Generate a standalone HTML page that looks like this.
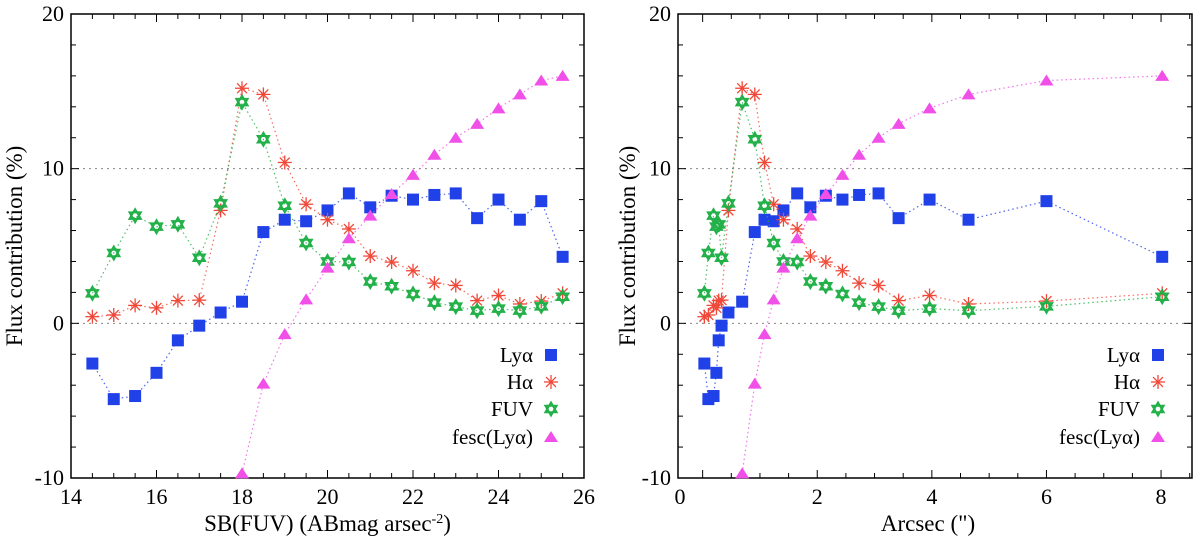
<!DOCTYPE html>
<html><head><meta charset="utf-8">
<style>
html,body{margin:0;padding:0;background:#fff;}
svg, svg text{font-family:"Liberation Serif","Times New Roman",Times,"DejaVu Serif",serif;}
</style></head>
<body>
<svg id="chart" width="1200" height="539" viewBox="0 0 1200 539"></svg>
<script>
// ---- data ----
const sbFuv = [14.5,15,15.5,16,16.5,17,17.5,18,18.5,19,19.5,20,20.5,21,21.5,22,22.5,23,23.5,24,24.5,25,25.5];
const arcsec = [0.03,0.10,0.19,0.24,0.28,0.33,0.45,0.69,0.91,1.08,1.24,1.41,1.65,1.88,2.15,2.44,2.73,3.07,3.42,3.96,4.64,6.0,8.02];
const lyaVals = [-2.6,-4.9,-4.7,-3.2,-1.1,-0.15,0.7,1.4,5.9,6.7,6.6,7.3,8.4,7.5,8.25,8.0,8.3,8.4,6.8,8.0,6.7,7.9,4.3];
const haVals = [0.43,0.54,1.16,1.0,1.47,1.5,7.3,15.2,14.8,10.4,7.7,6.7,6.1,4.35,3.96,3.4,2.6,2.45,1.47,1.8,1.25,1.44,1.94];
const fuvVals = [1.94,4.55,6.96,6.25,6.4,4.24,7.76,14.3,11.9,7.6,5.2,4.0,3.96,2.7,2.4,1.9,1.34,1.08,0.82,0.95,0.82,1.1,1.72];
const fescVals = [null,null,null,null,null,null,null,-9.7,-3.9,-0.7,1.55,3.6,5.5,6.96,8.36,9.6,10.9,12.0,12.9,13.9,14.8,15.7,16.0];
const yTicks = [-10,0,10,20];
const leftXTicks = [14,16,18,20,22,24,26];
const rightXTicks = [2,4,6,8];
const legendLabels = ["Lyα","Hα","FUV","fesc(Lyα)"];

const NS="http://www.w3.org/2000/svg";
const svg=document.getElementById('chart');
function mk(tag,attrs,parent){const e=document.createElementNS(NS,tag);for(const k in attrs)e.setAttribute(k,attrs[k]);(parent||svg).appendChild(e);return e;}

const COL={lya:'#2040e8',ha:'#f04838',fuv:'#22b048',fesc:'#f050e8'};

function marker(g,type,cx,cy){
  let m;
  if(type==='lya'){m=mk('rect',{x:cx-6,y:cy-6,width:12,height:12,fill:COL.lya},g);}
  else if(type==='ha'){m=mk('g',{stroke:COL.ha,'stroke-width':1.3},g);
    for(let a=0;a<4;a++){const t=a*Math.PI/4;mk('line',{x1:cx-7*Math.cos(t),y1:cy-7*Math.sin(t),x2:cx+7*Math.cos(t),y2:cy+7*Math.sin(t)},m);}}
  else if(type==='fuv'){const r=6.5;const p1=[],p2=[];
    for(let i=0;i<3;i++){const a=-Math.PI/2+i*2*Math.PI/3;p1.push((cx+r*Math.cos(a)).toFixed(1)+','+(cy+r*Math.sin(a)).toFixed(1));
      const b=Math.PI/2+i*2*Math.PI/3;p2.push((cx+r*Math.cos(b)).toFixed(1)+','+(cy+r*Math.sin(b)).toFixed(1));}
    m=mk('g',{fill:'none',stroke:COL.fuv,'stroke-width':2},g);
    mk('polygon',{points:p1.join(' ')},m);mk('polygon',{points:p2.join(' ')},m);}
  else {m=mk('polygon',{points:`${cx},${cy-6} ${cx-7},${cy+5} ${cx+7},${cy+5}`,fill:COL.fesc},g);}
  return m;
}

function panel(opts){
  const {name,x0,x1,xmin,xmax,xs,xTicks,xMinorStep,xlabelFn,ylabX,legendX,zeroLabelX}=opts;
  const y0=14,y1=478,ymin=-10,ymax=20;
  const X=v=>x0+(v-xmin)/(xmax-xmin)*(x1-x0);
  const Y=v=>y1-(v-ymin)/(ymax-ymin)*(y1-y0);
  const g=mk('g',{});
  
  
  [0,10].forEach(v=>{const l=mk('line',{x1:x0,x2:x1,y1:Y(v),y2:Y(v),stroke:'#888','stroke-width':1,'stroke-dasharray':'2,4'},g);
    });
  const fr=mk('rect',{x:x0,y:y0,width:x1-x0,height:y1-y0,fill:'none',stroke:'#000','stroke-width':1.5},g);
  
  for(let v=ymin;v<=ymax;v+=2){const len=(v%10===0)?8:5;
    mk('line',{x1:x0,x2:x0+len,y1:Y(v),y2:Y(v),stroke:'#000','stroke-width':1},g);
    mk('line',{x1:x1,x2:x1-len,y1:Y(v),y2:Y(v),stroke:'#000','stroke-width':1},g);}
  yTicks.forEach(v=>{const t=mk('text',{x:x0-7,y:Y(v)+7,'text-anchor':'end','font-size':22},g);t.textContent=v;
    });
  const start=Math.ceil(xmin/xMinorStep)*xMinorStep;
  for(let v=start;v<=xmax+1e-9;v+=xMinorStep){const major=Math.abs(v/2-Math.round(v/2))<1e-6;const len=major?8:5;
    mk('line',{x1:X(v),x2:X(v),y1:y1,y2:y1-len,stroke:'#000','stroke-width':1},g);
    mk('line',{x1:X(v),x2:X(v),y1:y0,y2:y0+len,stroke:'#000','stroke-width':1},g);}
  xTicks.forEach(v=>{const t=mk('text',{x:X(v),y:504,'text-anchor':'middle','font-size':22},g);t.textContent=v;
    });
  if(zeroLabelX!==undefined){const t=mk('text',{x:zeroLabelX,y:504,'text-anchor':'middle','font-size':22},g);t.textContent='0';
    }
  const yl=mk('text',{x:ylabX,y:246,'text-anchor':'middle','font-size':23,transform:`rotate(-90 ${ylabX} 246)`},g);
  yl.textContent='Flux contribution (%)';
  xlabelFn(g,(x0+x1)/2);
  const series=[['lya',lyaVals],['ha',haVals],['fuv',fuvVals],['fesc',fescVals]];
  series.forEach(([k,vals])=>{
    const sg=mk('g',{},g);
    
    
    const pts=[];vals.forEach((v,i)=>{if(v!==null)pts.push(X(xs[i]).toFixed(1)+','+Y(v).toFixed(1));});
    mk('polyline',{points:pts.join(' '),fill:'none',stroke:COL[k],'stroke-width':1.2,'stroke-dasharray':'1.5,3','stroke-opacity':0.8},sg);
    vals.forEach((v,i)=>{if(v===null)return;const m=marker(sg,k,X(xs[i]),Y(v));
      
      });
  });
  const lg=mk('g',{},g);
  
  
  const keys=['lya','ha','fuv','fesc'];const ly=[355,382,409,437];
  keys.forEach((k,i)=>{const t=mk('text',{x:legendX,y:ly[i]+7,'text-anchor':'end','font-size':21},lg);t.textContent=legendLabels[i];
    
    marker(lg,k,legendX+18,ly[i]);});
}

panel({name:'left-panel',x0:71,x1:584,xmin:14,xmax:26,xs:sbFuv,xTicks:leftXTicks,xMinorStep:0.5,ylabX:22,legendX:533,
  xlabelFn:(g,cx)=>{const t=mk('text',{x:cx,y:531,'text-anchor':'middle','font-size':23},g);
    
    t.innerHTML='SB(FUV) (ABmag arsec<tspan dy="-8" font-size="14">-2</tspan><tspan dy="8">)</tspan>';}});
panel({name:'right-panel',x0:678,x1:1192,xmin:-0.43,xmax:8.54,xs:arcsec,xTicks:rightXTicks,xMinorStep:0.5,ylabX:635,legendX:1140,zeroLabelX:680,
  xlabelFn:(g,cx)=>{const t=mk('text',{x:928,y:531,'text-anchor':'middle','font-size':23},g);
    
    t.textContent='Arcsec (")';}});
</script>
</body></html>
